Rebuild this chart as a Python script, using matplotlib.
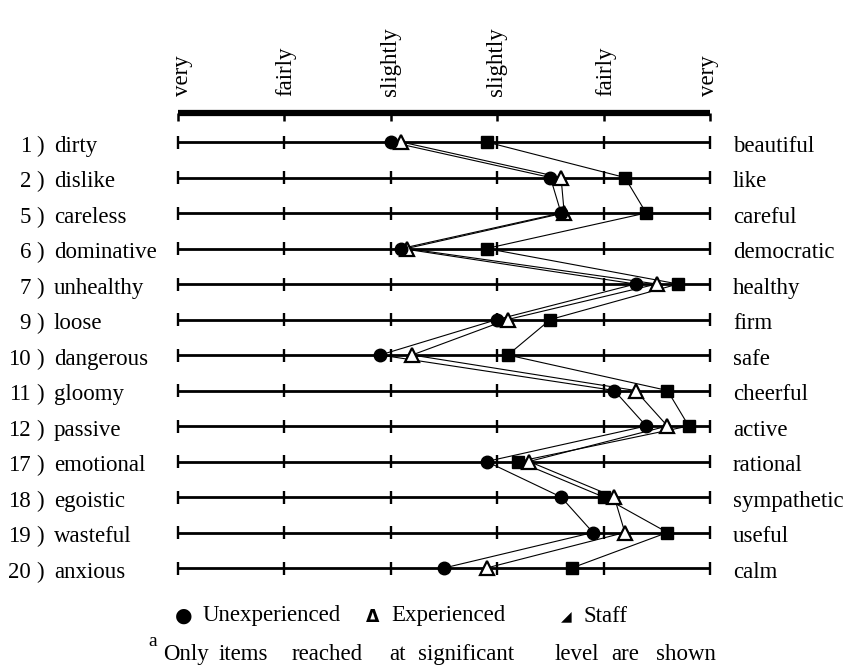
"""Semantic differential profile: unexperienced / experienced / staff"""
import matplotlib.pyplot as plt

# --- data (scale point 1 = left "very", 6 = right "very")
item_numbers = ["1", "2", "5", "6", "7", "9", "10", "11", "12", "17", "18", "19", "20"]
left_words = ["dirty", "dislike", "careless", "dominative", "unhealthy", "loose",
              "dangerous", "gloomy", "passive", "emotional", "egoistic",
              "wasteful", "anxious"]
right_words = ["beautiful", "like", "careful", "democratic", "healthy", "firm",
               "safe", "cheerful", "active", "rational", "sympathetic",
               "useful", "calm"]
scale_labels = ["very", "fairly", "slightly", "slightly", "fairly", "very"]
scale_points = [1, 2, 3, 4, 5, 6]

unexperienced = [3.0, 4.5, 4.6, 3.1, 5.3, 4.0, 2.9, 5.1, 5.4, 3.9, 4.6, 4.9, 3.5]
experienced = [3.1, 4.6, 4.63, 3.15, 5.5, 4.1, 3.2, 5.3, 5.6, 4.3, 5.1, 5.2, 3.9]
staff = [3.9, 5.2, 5.4, 3.9, 5.7, 4.5, 4.1, 5.6, 5.8, 4.2, 5.0, 5.6, 4.7]

legend_labels = ["Unexperienced", "Experienced", "Staff"]
footnote_mark = "a"
footnote_words = ["Only", "items", "reached", "at", "significant",
                  "level", "are", "shown"]

# --- page geometry (pixels)
W, H = 859, 666
X0, DX = 178, 106.4      # pixel of scale point 1, pixels per scale step
Y0, DY = 142, 35.5       # pixel of first row, pixels per row
FONT = 16.5


def xd(px):
    """pixel x -> scale units"""
    return 1 + (px - X0) / DX


def yd(py):
    """pixel y -> row units"""
    return (py - Y0) / DY


plt.rcParams["font.family"] = ["Liberation Serif", "DejaVu Sans"]

fig = plt.figure(figsize=(W / 100, H / 100), dpi=100)
ax = fig.add_axes([0, 0, 1, 1])
ax.set_xlim(xd(0), xd(W))
ax.set_ylim(yd(H), yd(0))
ax.axis("off")

rows = list(range(len(left_words)))
tick = 6.5 / DY

# heavy header bar with downward ticks
bar_y = yd(113)
ax.plot([scale_points[0], scale_points[-1]], [bar_y, bar_y], color="black",
        lw=4.5, solid_capstyle="butt", zorder=1)
ax.vlines(scale_points, bar_y, yd(121), color="black", lw=1.8, zorder=1)

# scale lines per item
for row in rows:
    ax.plot([scale_points[0], scale_points[-1]], [row, row], color="black",
            lw=2.0, solid_capstyle="butt", zorder=1)
    ax.vlines(scale_points, row - tick, row + tick, color="black", lw=1.7,
              zorder=1)

# profiles
ax.plot(staff, rows, color="black", lw=0.8, zorder=2)
ax.plot(experienced, rows, color="black", lw=0.8, zorder=2)
ax.plot(unexperienced, rows, color="black", lw=0.8, zorder=2)
ax.plot(staff, rows, ls="none", marker="s", ms=8.5, mfc="black", mec="black",
        zorder=3)
ax.plot(experienced, rows, ls="none", marker="^", ms=10, mfc="white",
        mec="black", mew=1.6, zorder=4)
ax.plot(unexperienced, rows, ls="none", marker="o", ms=9, mfc="black",
        mec="black", zorder=5)

# scale labels on top
label_shift = [4, 1, 0, -1, 2, -2]
for point, label, shift in zip(scale_points, scale_labels, label_shift):
    ax.text(point + shift / DX, yd(96), label, rotation=90, ha="center",
            va="bottom", fontsize=FONT)

# item labels
for row, num, left, right in zip(rows, item_numbers, left_words, right_words):
    base = row + 9.7 / DY
    ax.text(xd(31), base, num, ha="right", va="baseline", fontsize=FONT)
    ax.text(xd(36), base, ")", ha="left", va="baseline", fontsize=FONT)
    ax.text(xd(54), base, left, ha="left", va="baseline", fontsize=FONT)
    ax.text(xd(733), base, right, ha="left", va="baseline", fontsize=FONT)

# legend line
leg_y = yd(621.5)
ax.text(xd(184), leg_y + 0.5 / DY, "\u25cf", ha="center", va="baseline",
        fontsize=14.5, family="DejaVu Sans")
ax.text(xd(203), leg_y, legend_labels[0], ha="left", va="baseline",
        fontsize=FONT)
ax.text(xd(373), leg_y, "\u0394", ha="center", va="baseline", fontsize=12.5,
        family="DejaVu Sans", weight="bold")
ax.text(xd(391), leg_y, legend_labels[1], ha="left", va="baseline",
        fontsize=FONT)
ax.text(xd(566), leg_y - 1 / DY, "\u25e2", ha="center", va="baseline",
        fontsize=10, family="DejaVu Sans")
ax.text(xd(583), leg_y, legend_labels[2], ha="left", va="baseline",
        fontsize=FONT)

# footnote, words spaced as in the print
word_x = [163, 219, 292, 389, 418, 555, 611, 656]
ax.text(xd(148), yd(646), footnote_mark, ha="left", va="baseline",
        fontsize=14)
for px, word in zip(word_x, footnote_words):
    ax.text(xd(px), yd(660), word, ha="left", va="baseline", fontsize=FONT)

fig.savefig("out.png", dpi=100)
